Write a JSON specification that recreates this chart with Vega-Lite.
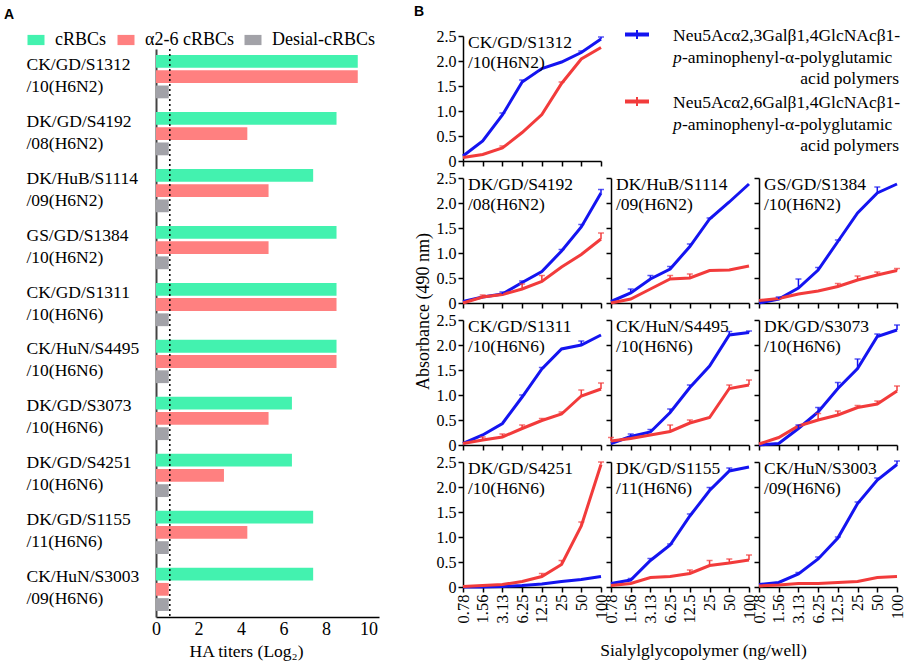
{
"$schema":"https://vega.github.io/schema/vega-lite/v6.json",
"background":"white",
"padding":{"left":4,"top":5,"right":1,"bottom":2},
"resolve":{"scale":{"color":"independent"},"legend":{"color":"independent"}},
"config":{
 "view":{"stroke":null},
 "font":"Liberation Serif",
 "axis":{"domainColor":"black","domainWidth":1.5,"tickColor":"black","tickWidth":1.5,"tickSize":5,"grid":false,"labelFont":"Liberation Serif","labelFontSize":16,"labelColor":"black","titleFont":"Liberation Serif","titleFontSize":18,"titleFontWeight":"normal","titleColor":"black","labelPadding":2,"labelFlush":false},
 "axisY":{"titlePadding":4},
 "text":{"font":"Liberation Serif","fontSize":17.5,"color":"black"},
 "title":{"font":"Liberation Sans","fontSize":14,"fontWeight":"bold","color":"black"}
},
"datasets":{
"bars":[
{"strain":"CK/GD/S1312/10(H6N2)","type":"cRBCs","titer":9.5},{"strain":"CK/GD/S1312/10(H6N2)","type":"α2-6 cRBCs","titer":9.5},{"strain":"CK/GD/S1312/10(H6N2)","type":"Desial-cRBCs","titer":0.6},
{"strain":"DK/GD/S4192/08(H6N2)","type":"cRBCs","titer":8.5},{"strain":"DK/GD/S4192/08(H6N2)","type":"α2-6 cRBCs","titer":4.3},{"strain":"DK/GD/S4192/08(H6N2)","type":"Desial-cRBCs","titer":0.6},
{"strain":"DK/HuB/S1114/09(H6N2)","type":"cRBCs","titer":7.4},{"strain":"DK/HuB/S1114/09(H6N2)","type":"α2-6 cRBCs","titer":5.3},{"strain":"DK/HuB/S1114/09(H6N2)","type":"Desial-cRBCs","titer":0.6},
{"strain":"GS/GD/S1384/10(H6N2)","type":"cRBCs","titer":8.5},{"strain":"GS/GD/S1384/10(H6N2)","type":"α2-6 cRBCs","titer":5.3},{"strain":"GS/GD/S1384/10(H6N2)","type":"Desial-cRBCs","titer":0.6},
{"strain":"CK/GD/S1311/10(H6N6)","type":"cRBCs","titer":8.5},{"strain":"CK/GD/S1311/10(H6N6)","type":"α2-6 cRBCs","titer":8.5},{"strain":"CK/GD/S1311/10(H6N6)","type":"Desial-cRBCs","titer":0.6},
{"strain":"CK/HuN/S4495/10(H6N6)","type":"cRBCs","titer":8.5},{"strain":"CK/HuN/S4495/10(H6N6)","type":"α2-6 cRBCs","titer":8.5},{"strain":"CK/HuN/S4495/10(H6N6)","type":"Desial-cRBCs","titer":0.6},
{"strain":"DK/GD/S3073/10(H6N6)","type":"cRBCs","titer":6.4},{"strain":"DK/GD/S3073/10(H6N6)","type":"α2-6 cRBCs","titer":5.3},{"strain":"DK/GD/S3073/10(H6N6)","type":"Desial-cRBCs","titer":0.6},
{"strain":"DK/GD/S4251/10(H6N6)","type":"cRBCs","titer":6.4},{"strain":"DK/GD/S4251/10(H6N6)","type":"α2-6 cRBCs","titer":3.2},{"strain":"DK/GD/S4251/10(H6N6)","type":"Desial-cRBCs","titer":0.6},
{"strain":"DK/GD/S1155/11(H6N6)","type":"cRBCs","titer":7.4},{"strain":"DK/GD/S1155/11(H6N6)","type":"α2-6 cRBCs","titer":4.3},{"strain":"DK/GD/S1155/11(H6N6)","type":"Desial-cRBCs","titer":0.6},
{"strain":"CK/HuN/S3003/09(H6N6)","type":"cRBCs","titer":7.4},{"strain":"CK/HuN/S3003/09(H6N6)","type":"α2-6 cRBCs","titer":0.6},{"strain":"CK/HuN/S3003/09(H6N6)","type":"Desial-cRBCs","titer":0.6}
],
"strainlabels":[
{"strain":"CK/GD/S1312/10(H6N2)","line1":"CK/GD/S1312","line2":"/10(H6N2)"},
{"strain":"DK/GD/S4192/08(H6N2)","line1":"DK/GD/S4192","line2":"/08(H6N2)"},
{"strain":"DK/HuB/S1114/09(H6N2)","line1":"DK/HuB/S1114","line2":"/09(H6N2)"},
{"strain":"GS/GD/S1384/10(H6N2)","line1":"GS/GD/S1384","line2":"/10(H6N2)"},
{"strain":"CK/GD/S1311/10(H6N6)","line1":"CK/GD/S1311","line2":"/10(H6N6)"},
{"strain":"CK/HuN/S4495/10(H6N6)","line1":"CK/HuN/S4495","line2":"/10(H6N6)"},
{"strain":"DK/GD/S3073/10(H6N6)","line1":"DK/GD/S3073","line2":"/10(H6N6)"},
{"strain":"DK/GD/S4251/10(H6N6)","line1":"DK/GD/S4251","line2":"/10(H6N6)"},
{"strain":"DK/GD/S1155/11(H6N6)","line1":"DK/GD/S1155","line2":"/11(H6N6)"},
{"strain":"CK/HuN/S3003/09(H6N6)","line1":"CK/HuN/S3003","line2":"/09(H6N6)"}
],
"curves":[
{"strain":"CK/GD/S1312/10(H6N2)","series":"α2,3","conc":"0.78","value":0.1,"hi":0.1},
{"strain":"CK/GD/S1312/10(H6N2)","series":"α2,3","conc":"1.56","value":0.4,"hi":0.4},
{"strain":"CK/GD/S1312/10(H6N2)","series":"α2,3","conc":"3.13","value":0.92,"hi":0.96},
{"strain":"CK/GD/S1312/10(H6N2)","series":"α2,3","conc":"6.25","value":1.58,"hi":1.62},
{"strain":"CK/GD/S1312/10(H6N2)","series":"α2,3","conc":"12.5","value":1.85,"hi":1.85},
{"strain":"CK/GD/S1312/10(H6N2)","series":"α2,3","conc":"25","value":1.98,"hi":1.98},
{"strain":"CK/GD/S1312/10(H6N2)","series":"α2,3","conc":"50","value":2.17,"hi":2.2},
{"strain":"CK/GD/S1312/10(H6N2)","series":"α2,3","conc":"100","value":2.44,"hi":2.48},
{"strain":"CK/GD/S1312/10(H6N2)","series":"α2,6","conc":"0.78","value":0.07,"hi":0.07},
{"strain":"CK/GD/S1312/10(H6N2)","series":"α2,6","conc":"1.56","value":0.13,"hi":0.13},
{"strain":"CK/GD/S1312/10(H6N2)","series":"α2,6","conc":"3.13","value":0.26,"hi":0.3},
{"strain":"CK/GD/S1312/10(H6N2)","series":"α2,6","conc":"6.25","value":0.57,"hi":0.57},
{"strain":"CK/GD/S1312/10(H6N2)","series":"α2,6","conc":"12.5","value":0.93,"hi":0.93},
{"strain":"CK/GD/S1312/10(H6N2)","series":"α2,6","conc":"25","value":1.55,"hi":1.58},
{"strain":"CK/GD/S1312/10(H6N2)","series":"α2,6","conc":"50","value":2.04,"hi":2.04},
{"strain":"CK/GD/S1312/10(H6N2)","series":"α2,6","conc":"100","value":2.27,"hi":2.27},
{"strain":"DK/GD/S4192/08(H6N2)","series":"α2,3","conc":"0.78","value":0.03,"hi":0.03},
{"strain":"DK/GD/S4192/08(H6N2)","series":"α2,3","conc":"1.56","value":0.12,"hi":0.12},
{"strain":"DK/GD/S4192/08(H6N2)","series":"α2,3","conc":"3.13","value":0.18,"hi":0.22},
{"strain":"DK/GD/S4192/08(H6N2)","series":"α2,3","conc":"6.25","value":0.41,"hi":0.44},
{"strain":"DK/GD/S4192/08(H6N2)","series":"α2,3","conc":"12.5","value":0.63,"hi":0.63},
{"strain":"DK/GD/S4192/08(H6N2)","series":"α2,3","conc":"25","value":1.04,"hi":1.07},
{"strain":"DK/GD/S4192/08(H6N2)","series":"α2,3","conc":"50","value":1.52,"hi":1.57},
{"strain":"DK/GD/S4192/08(H6N2)","series":"α2,3","conc":"100","value":2.2,"hi":2.27},
{"strain":"DK/GD/S4192/08(H6N2)","series":"α2,6","conc":"0.78","value":0.0,"hi":0.0},
{"strain":"DK/GD/S4192/08(H6N2)","series":"α2,6","conc":"1.56","value":0.12,"hi":0.16},
{"strain":"DK/GD/S4192/08(H6N2)","series":"α2,6","conc":"3.13","value":0.17,"hi":0.17},
{"strain":"DK/GD/S4192/08(H6N2)","series":"α2,6","conc":"6.25","value":0.28,"hi":0.38},
{"strain":"DK/GD/S4192/08(H6N2)","series":"α2,6","conc":"12.5","value":0.43,"hi":0.55},
{"strain":"DK/GD/S4192/08(H6N2)","series":"α2,6","conc":"25","value":0.72,"hi":0.72},
{"strain":"DK/GD/S4192/08(H6N2)","series":"α2,6","conc":"50","value":0.97,"hi":0.97},
{"strain":"DK/GD/S4192/08(H6N2)","series":"α2,6","conc":"100","value":1.28,"hi":1.4},
{"strain":"DK/HuB/S1114/09(H6N2)","series":"α2,3","conc":"0.78","value":0.03,"hi":0.03},
{"strain":"DK/HuB/S1114/09(H6N2)","series":"α2,3","conc":"1.56","value":0.2,"hi":0.28},
{"strain":"DK/HuB/S1114/09(H6N2)","series":"α2,3","conc":"3.13","value":0.48,"hi":0.55},
{"strain":"DK/HuB/S1114/09(H6N2)","series":"α2,3","conc":"6.25","value":0.68,"hi":0.73},
{"strain":"DK/HuB/S1114/09(H6N2)","series":"α2,3","conc":"12.5","value":1.13,"hi":1.18},
{"strain":"DK/HuB/S1114/09(H6N2)","series":"α2,3","conc":"25","value":1.68,"hi":1.7},
{"strain":"DK/HuB/S1114/09(H6N2)","series":"α2,3","conc":"50","value":2.02,"hi":2.02},
{"strain":"DK/HuB/S1114/09(H6N2)","series":"α2,3","conc":"100","value":2.38,"hi":2.38},
{"strain":"DK/HuB/S1114/09(H6N2)","series":"α2,6","conc":"0.78","value":0.0,"hi":0.0},
{"strain":"DK/HuB/S1114/09(H6N2)","series":"α2,6","conc":"1.56","value":0.08,"hi":0.08},
{"strain":"DK/HuB/S1114/09(H6N2)","series":"α2,6","conc":"3.13","value":0.28,"hi":0.28},
{"strain":"DK/HuB/S1114/09(H6N2)","series":"α2,6","conc":"6.25","value":0.48,"hi":0.55},
{"strain":"DK/HuB/S1114/09(H6N2)","series":"α2,6","conc":"12.5","value":0.5,"hi":0.58},
{"strain":"DK/HuB/S1114/09(H6N2)","series":"α2,6","conc":"25","value":0.65,"hi":0.65},
{"strain":"DK/HuB/S1114/09(H6N2)","series":"α2,6","conc":"50","value":0.66,"hi":0.66},
{"strain":"DK/HuB/S1114/09(H6N2)","series":"α2,6","conc":"100","value":0.74,"hi":0.74},
{"strain":"GS/GD/S1384/10(H6N2)","series":"α2,3","conc":"0.78","value":0.0,"hi":0.0},
{"strain":"GS/GD/S1384/10(H6N2)","series":"α2,3","conc":"1.56","value":0.08,"hi":0.12},
{"strain":"GS/GD/S1384/10(H6N2)","series":"α2,3","conc":"3.13","value":0.3,"hi":0.48},
{"strain":"GS/GD/S1384/10(H6N2)","series":"α2,3","conc":"6.25","value":0.66,"hi":0.71},
{"strain":"GS/GD/S1384/10(H6N2)","series":"α2,3","conc":"12.5","value":1.23,"hi":1.26},
{"strain":"GS/GD/S1384/10(H6N2)","series":"α2,3","conc":"25","value":1.8,"hi":1.8},
{"strain":"GS/GD/S1384/10(H6N2)","series":"α2,3","conc":"50","value":2.2,"hi":2.32},
{"strain":"GS/GD/S1384/10(H6N2)","series":"α2,3","conc":"100","value":2.38,"hi":2.38},
{"strain":"GS/GD/S1384/10(H6N2)","series":"α2,6","conc":"0.78","value":0.05,"hi":0.05},
{"strain":"GS/GD/S1384/10(H6N2)","series":"α2,6","conc":"1.56","value":0.09,"hi":0.09},
{"strain":"GS/GD/S1384/10(H6N2)","series":"α2,6","conc":"3.13","value":0.18,"hi":0.18},
{"strain":"GS/GD/S1384/10(H6N2)","series":"α2,6","conc":"6.25","value":0.24,"hi":0.24},
{"strain":"GS/GD/S1384/10(H6N2)","series":"α2,6","conc":"12.5","value":0.33,"hi":0.39},
{"strain":"GS/GD/S1384/10(H6N2)","series":"α2,6","conc":"25","value":0.46,"hi":0.54},
{"strain":"GS/GD/S1384/10(H6N2)","series":"α2,6","conc":"50","value":0.56,"hi":0.62},
{"strain":"GS/GD/S1384/10(H6N2)","series":"α2,6","conc":"100","value":0.65,"hi":0.69},
{"strain":"CK/GD/S1311/10(H6N6)","series":"α2,3","conc":"0.78","value":0.03,"hi":0.03},
{"strain":"CK/GD/S1311/10(H6N6)","series":"α2,3","conc":"1.56","value":0.2,"hi":0.2},
{"strain":"CK/GD/S1311/10(H6N6)","series":"α2,3","conc":"3.13","value":0.43,"hi":0.43},
{"strain":"CK/GD/S1311/10(H6N6)","series":"α2,3","conc":"6.25","value":0.96,"hi":1.0},
{"strain":"CK/GD/S1311/10(H6N6)","series":"α2,3","conc":"12.5","value":1.52,"hi":1.55},
{"strain":"CK/GD/S1311/10(H6N6)","series":"α2,3","conc":"25","value":1.92,"hi":1.92},
{"strain":"CK/GD/S1311/10(H6N6)","series":"α2,3","conc":"50","value":2.0,"hi":2.08},
{"strain":"CK/GD/S1311/10(H6N6)","series":"α2,3","conc":"100","value":2.2,"hi":2.2},
{"strain":"CK/GD/S1311/10(H6N6)","series":"α2,6","conc":"0.78","value":0.03,"hi":0.03},
{"strain":"CK/GD/S1311/10(H6N6)","series":"α2,6","conc":"1.56","value":0.1,"hi":0.16},
{"strain":"CK/GD/S1311/10(H6N6)","series":"α2,6","conc":"3.13","value":0.16,"hi":0.22},
{"strain":"CK/GD/S1311/10(H6N6)","series":"α2,6","conc":"6.25","value":0.33,"hi":0.4},
{"strain":"CK/GD/S1311/10(H6N6)","series":"α2,6","conc":"12.5","value":0.49,"hi":0.53},
{"strain":"CK/GD/S1311/10(H6N6)","series":"α2,6","conc":"25","value":0.62,"hi":0.66},
{"strain":"CK/GD/S1311/10(H6N6)","series":"α2,6","conc":"50","value":0.98,"hi":1.1},
{"strain":"CK/GD/S1311/10(H6N6)","series":"α2,6","conc":"100","value":1.12,"hi":1.24},
{"strain":"CK/HuN/S4495/10(H6N6)","series":"α2,3","conc":"0.78","value":0.03,"hi":0.03},
{"strain":"CK/HuN/S4495/10(H6N6)","series":"α2,3","conc":"1.56","value":0.17,"hi":0.22},
{"strain":"CK/HuN/S4495/10(H6N6)","series":"α2,3","conc":"3.13","value":0.26,"hi":0.31},
{"strain":"CK/HuN/S4495/10(H6N6)","series":"α2,3","conc":"6.25","value":0.65,"hi":0.72},
{"strain":"CK/HuN/S4495/10(H6N6)","series":"α2,3","conc":"12.5","value":1.15,"hi":1.2},
{"strain":"CK/HuN/S4495/10(H6N6)","series":"α2,3","conc":"25","value":1.58,"hi":1.58},
{"strain":"CK/HuN/S4495/10(H6N6)","series":"α2,3","conc":"50","value":2.2,"hi":2.27},
{"strain":"CK/HuN/S4495/10(H6N6)","series":"α2,3","conc":"100","value":2.25,"hi":2.28},
{"strain":"CK/HuN/S4495/10(H6N6)","series":"α2,6","conc":"0.78","value":0.08,"hi":0.15},
{"strain":"CK/HuN/S4495/10(H6N6)","series":"α2,6","conc":"1.56","value":0.13,"hi":0.13},
{"strain":"CK/HuN/S4495/10(H6N6)","series":"α2,6","conc":"3.13","value":0.2,"hi":0.2},
{"strain":"CK/HuN/S4495/10(H6N6)","series":"α2,6","conc":"6.25","value":0.27,"hi":0.4},
{"strain":"CK/HuN/S4495/10(H6N6)","series":"α2,6","conc":"12.5","value":0.44,"hi":0.5},
{"strain":"CK/HuN/S4495/10(H6N6)","series":"α2,6","conc":"25","value":0.55,"hi":0.55},
{"strain":"CK/HuN/S4495/10(H6N6)","series":"α2,6","conc":"50","value":1.13,"hi":1.2},
{"strain":"CK/HuN/S4495/10(H6N6)","series":"α2,6","conc":"100","value":1.2,"hi":1.3},
{"strain":"DK/GD/S3073/10(H6N6)","series":"α2,3","conc":"0.78","value":0.0,"hi":0.0},
{"strain":"DK/GD/S3073/10(H6N6)","series":"α2,3","conc":"1.56","value":0.03,"hi":0.03},
{"strain":"DK/GD/S3073/10(H6N6)","series":"α2,3","conc":"3.13","value":0.33,"hi":0.4},
{"strain":"DK/GD/S3073/10(H6N6)","series":"α2,3","conc":"6.25","value":0.66,"hi":0.75},
{"strain":"DK/GD/S3073/10(H6N6)","series":"α2,3","conc":"12.5","value":1.13,"hi":1.25},
{"strain":"DK/GD/S3073/10(H6N6)","series":"α2,3","conc":"25","value":1.53,"hi":1.72},
{"strain":"DK/GD/S3073/10(H6N6)","series":"α2,3","conc":"50","value":2.17,"hi":2.22},
{"strain":"DK/GD/S3073/10(H6N6)","series":"α2,3","conc":"100","value":2.3,"hi":2.4},
{"strain":"DK/GD/S3073/10(H6N6)","series":"α2,6","conc":"0.78","value":0.02,"hi":0.02},
{"strain":"DK/GD/S3073/10(H6N6)","series":"α2,6","conc":"1.56","value":0.15,"hi":0.15},
{"strain":"DK/GD/S3073/10(H6N6)","series":"α2,6","conc":"3.13","value":0.38,"hi":0.38},
{"strain":"DK/GD/S3073/10(H6N6)","series":"α2,6","conc":"6.25","value":0.5,"hi":0.63},
{"strain":"DK/GD/S3073/10(H6N6)","series":"α2,6","conc":"12.5","value":0.6,"hi":0.68},
{"strain":"DK/GD/S3073/10(H6N6)","series":"α2,6","conc":"25","value":0.75,"hi":0.79},
{"strain":"DK/GD/S3073/10(H6N6)","series":"α2,6","conc":"50","value":0.82,"hi":0.88},
{"strain":"DK/GD/S3073/10(H6N6)","series":"α2,6","conc":"100","value":1.08,"hi":1.18},
{"strain":"DK/GD/S4251/10(H6N6)","series":"α2,3","conc":"0.78","value":0.0,"hi":0.0},
{"strain":"DK/GD/S4251/10(H6N6)","series":"α2,3","conc":"1.56","value":0.0,"hi":0.0},
{"strain":"DK/GD/S4251/10(H6N6)","series":"α2,3","conc":"3.13","value":0.01,"hi":0.01},
{"strain":"DK/GD/S4251/10(H6N6)","series":"α2,3","conc":"6.25","value":0.03,"hi":0.03},
{"strain":"DK/GD/S4251/10(H6N6)","series":"α2,3","conc":"12.5","value":0.06,"hi":0.06},
{"strain":"DK/GD/S4251/10(H6N6)","series":"α2,3","conc":"25","value":0.11,"hi":0.11},
{"strain":"DK/GD/S4251/10(H6N6)","series":"α2,3","conc":"50","value":0.15,"hi":0.15},
{"strain":"DK/GD/S4251/10(H6N6)","series":"α2,3","conc":"100","value":0.21,"hi":0.21},
{"strain":"DK/GD/S4251/10(H6N6)","series":"α2,6","conc":"0.78","value":0.01,"hi":0.01},
{"strain":"DK/GD/S4251/10(H6N6)","series":"α2,6","conc":"1.56","value":0.03,"hi":0.03},
{"strain":"DK/GD/S4251/10(H6N6)","series":"α2,6","conc":"3.13","value":0.05,"hi":0.05},
{"strain":"DK/GD/S4251/10(H6N6)","series":"α2,6","conc":"6.25","value":0.11,"hi":0.11},
{"strain":"DK/GD/S4251/10(H6N6)","series":"α2,6","conc":"12.5","value":0.21,"hi":0.27},
{"strain":"DK/GD/S4251/10(H6N6)","series":"α2,6","conc":"25","value":0.45,"hi":0.53},
{"strain":"DK/GD/S4251/10(H6N6)","series":"α2,6","conc":"50","value":1.22,"hi":1.3},
{"strain":"DK/GD/S4251/10(H6N6)","series":"α2,6","conc":"100","value":2.45,"hi":2.5},
{"strain":"DK/GD/S1155/11(H6N6)","series":"α2,3","conc":"0.78","value":0.07,"hi":0.07},
{"strain":"DK/GD/S1155/11(H6N6)","series":"α2,3","conc":"1.56","value":0.14,"hi":0.17},
{"strain":"DK/GD/S1155/11(H6N6)","series":"α2,3","conc":"3.13","value":0.53,"hi":0.57},
{"strain":"DK/GD/S1155/11(H6N6)","series":"α2,3","conc":"6.25","value":0.84,"hi":0.86},
{"strain":"DK/GD/S1155/11(H6N6)","series":"α2,3","conc":"12.5","value":1.42,"hi":1.46},
{"strain":"DK/GD/S1155/11(H6N6)","series":"α2,3","conc":"25","value":1.93,"hi":1.99},
{"strain":"DK/GD/S1155/11(H6N6)","series":"α2,3","conc":"50","value":2.32,"hi":2.38},
{"strain":"DK/GD/S1155/11(H6N6)","series":"α2,3","conc":"100","value":2.4,"hi":2.4},
{"strain":"DK/GD/S1155/11(H6N6)","series":"α2,6","conc":"0.78","value":0.03,"hi":0.03},
{"strain":"DK/GD/S1155/11(H6N6)","series":"α2,6","conc":"1.56","value":0.07,"hi":0.07},
{"strain":"DK/GD/S1155/11(H6N6)","series":"α2,6","conc":"3.13","value":0.19,"hi":0.19},
{"strain":"DK/GD/S1155/11(H6N6)","series":"α2,6","conc":"6.25","value":0.21,"hi":0.21},
{"strain":"DK/GD/S1155/11(H6N6)","series":"α2,6","conc":"12.5","value":0.27,"hi":0.34},
{"strain":"DK/GD/S1155/11(H6N6)","series":"α2,6","conc":"25","value":0.43,"hi":0.53},
{"strain":"DK/GD/S1155/11(H6N6)","series":"α2,6","conc":"50","value":0.48,"hi":0.56},
{"strain":"DK/GD/S1155/11(H6N6)","series":"α2,6","conc":"100","value":0.54,"hi":0.64},
{"strain":"CK/HuN/S3003/09(H6N6)","series":"α2,3","conc":"0.78","value":0.05,"hi":0.05},
{"strain":"CK/HuN/S3003/09(H6N6)","series":"α2,3","conc":"1.56","value":0.09,"hi":0.09},
{"strain":"CK/HuN/S3003/09(H6N6)","series":"α2,3","conc":"3.13","value":0.26,"hi":0.29},
{"strain":"CK/HuN/S3003/09(H6N6)","series":"α2,3","conc":"6.25","value":0.56,"hi":0.6},
{"strain":"CK/HuN/S3003/09(H6N6)","series":"α2,3","conc":"12.5","value":0.98,"hi":1.0},
{"strain":"CK/HuN/S3003/09(H6N6)","series":"α2,3","conc":"25","value":1.67,"hi":1.7},
{"strain":"CK/HuN/S3003/09(H6N6)","series":"α2,3","conc":"50","value":2.14,"hi":2.18},
{"strain":"CK/HuN/S3003/09(H6N6)","series":"α2,3","conc":"100","value":2.45,"hi":2.52},
{"strain":"CK/HuN/S3003/09(H6N6)","series":"α2,6","conc":"0.78","value":0.02,"hi":0.02},
{"strain":"CK/HuN/S3003/09(H6N6)","series":"α2,6","conc":"1.56","value":0.04,"hi":0.04},
{"strain":"CK/HuN/S3003/09(H6N6)","series":"α2,6","conc":"3.13","value":0.07,"hi":0.07},
{"strain":"CK/HuN/S3003/09(H6N6)","series":"α2,6","conc":"6.25","value":0.07,"hi":0.07},
{"strain":"CK/HuN/S3003/09(H6N6)","series":"α2,6","conc":"12.5","value":0.09,"hi":0.09},
{"strain":"CK/HuN/S3003/09(H6N6)","series":"α2,6","conc":"25","value":0.11,"hi":0.11},
{"strain":"CK/HuN/S3003/09(H6N6)","series":"α2,6","conc":"50","value":0.19,"hi":0.19},
{"strain":"CK/HuN/S3003/09(H6N6)","series":"α2,6","conc":"100","value":0.21,"hi":0.21}
]
},
"spacing":35,
"hconcat":[
{
 "title":{"text":"A","anchor":"start","frame":"bounds","dx":-22,"offset":9},
 "bounds":"flush",
 "spacing":12,
 "vconcat":[
  {"width":223,"height":1,"data":{"values":[{"spacer":1}]},"mark":{"type":"point","opacity":0},"encoding":{}},
  {
   "width":223,"height":568,
   "layer":[
    {"data":{"name":"bars"},
     "mark":{"type":"bar"},
     "encoding":{
      "y":{"field":"strain","type":"nominal","sort":null,"scale":{"paddingInner":0.24,"paddingOuter":0.106},
           "axis":{"title":null,"ticks":false,"labelAlign":"left","labelPadding":130,"labelFontSize":17.5,"labelLineHeight":22,"labelBaseline":"middle","labelOffset":-12,"labelLimit":200,"domainColor":"#444","domainWidth":2,
                   "labelExpr":"[substring(datum.label, 0, lastindexof(datum.label, '/')), substring(datum.label, lastindexof(datum.label, '/'))]"}},
      "yOffset":{"field":"type","type":"nominal","sort":["cRBCs","α2-6 cRBCs","Desial-cRBCs"],"scale":{"paddingInner":0.16}},
      "x":{"field":"titer","type":"quantitative","scale":{"domain":[0,10.5],"nice":false},
           "axis":{"values":[0,2,4,6,8,10],"ticks":false,"labelPadding":3,"labelFontSize":18,"title":"HA titers (Log₂)","titleX":90,"titlePadding":4,"titleFontSize":17.5}},
      "color":{"field":"type","type":"nominal","scale":{"domain":["cRBCs","α2-6 cRBCs","Desial-cRBCs"],"range":["#43F2AF","#FF8080","#A2A2A8"]},
           "legend":{"title":null,"orient":"none","legendX":-129,"legendY":-5,"direction":"horizontal","symbolType":"M-1,-0.6H1V0.6H-1Z","symbolSize":289,"symbolStrokeWidth":0,"labelFont":"Liberation Serif","labelFontSize":18,"labelColor":"black","labelOffset":10,"columnPadding":10}}
     }},
    {"data":{"values":[{"threshold":"detection limit"}]},
     "mark":{"type":"rule","strokeDash":[2,3],"strokeWidth":1.5,"color":"black"},
     "encoding":{"x":{"datum":0.65}}}
   ]
  }
 ]
},
{
 "title":{"text":"B","anchor":"start","frame":"bounds","offset":7},
 "columns":3,
 "spacing":{"row":17,"column":10},
 "bounds":"flush",
 "concat":[
  {"width":138,"height":125,
   "encoding":{
    "x":{"field":"conc","type":"ordinal","sort":["0.78","1.56","3.13","6.25","12.5","25","50","100"],"scale":{"type":"point","padding":0,"domain":["0.78","1.56","3.13","6.25","12.5","25","50","100"]},"axis":{"labels":false,"title":null}},
    "y":{"field":"value","type":"quantitative","scale":{"domain":[0,2.5],"nice":false},"axis":{"values":[0,0.5,1,1.5,2,2.5],"labelExpr":"datum.value == 0 ? '0' : format(datum.value, '.1f')","title":null}},
    "color":{"field":"series","type":"nominal","scale":{"domain":["α2,3","α2,6"],"range":["#1414F0","#F23B3B"]},"legend":null}},
   "layer":[
    {"data":{"name":"curves"},"transform":[{"filter":"datum.strain == 'CK/GD/S1312/10(H6N2)'"}],"mark":{"type":"line","strokeWidth":3}},
    {"data":{"name":"curves"},"transform":[{"filter":"datum.strain == 'CK/GD/S1312/10(H6N2)' && datum.hi > datum.value"}],"mark":{"type":"rule","strokeWidth":1.5},"encoding":{"y2":{"field":"hi"}}},
    {"data":{"name":"curves"},"transform":[{"filter":"datum.strain == 'CK/GD/S1312/10(H6N2)' && datum.hi > datum.value"}],"mark":{"type":"tick","thickness":1.5,"size":6},"encoding":{"y":{"field":"hi","type":"quantitative"}}},
    {"data":{"name":"curves"},"transform":[{"filter":"datum.strain == 'CK/GD/S1312/10(H6N2)' && datum.conc == '0.78' && datum.series == 'α2,3'"},{"lookup":"strain","from":{"data":{"name":"strainlabels"},"key":"strain","fields":["line1","line2"]}}],"mark":{"type":"text","align":"left","baseline":"middle","dx":5,"dy":7},"encoding":{"y":{"datum":2.5,"type":"quantitative"},"text":{"field":"line1","type":"nominal"},"color":{"value":"black"}}},
    {"data":{"name":"curves"},"transform":[{"filter":"datum.strain == 'CK/GD/S1312/10(H6N2)' && datum.conc == '0.78' && datum.series == 'α2,3'"},{"lookup":"strain","from":{"data":{"name":"strainlabels"},"key":"strain","fields":["line1","line2"]}}],"mark":{"type":"text","align":"left","baseline":"middle","dx":5,"dy":27},"encoding":{"y":{"datum":2.5,"type":"quantitative"},"text":{"field":"line2","type":"nominal"},"color":{"value":"black"}}}
   ]},
  {"width":138,"height":67,
   "data":{"values":[
     {"series":"α2,3","line1":"Neu5Acα2,3Galβ1,4GlcNAcβ1-","prefix":"p","line2":"-aminophenyl-α-polyglutamic","line3":"acid polymers"},
     {"series":"α2,6","line1":"Neu5Acα2,6Galβ1,4GlcNAcβ1-","prefix":"p","line2":"-aminophenyl-α-polyglutamic","line3":"acid polymers"}]},
   "encoding":{
    "y":{"field":"series","type":"nominal","scale":{"type":"point","padding":0,"domain":["α2,3","α2,6"]},"axis":null},
    "color":{"field":"series","type":"nominal","scale":{"domain":["α2,3","α2,6"],"range":["#1414F0","#F23B3B"]},"legend":null}},
   "layer":[
    {"mark":{"type":"rule","strokeWidth":4,"yOffset":-1.5},"encoding":{"x":{"datum":14,"type":"quantitative","scale":{"domain":[0,138],"nice":false,"zero":false},"axis":null},"x2":{"datum":38}}},
    {"mark":{"type":"point","shape":"M0,-1V1","size":81,"strokeWidth":2,"filled":false,"opacity":1,"yOffset":-1.5},"encoding":{"x":{"datum":26,"type":"quantitative"}}},
    {"mark":{"type":"text","align":"left","baseline":"middle"},"encoding":{"x":{"datum":62,"type":"quantitative"},"text":{"field":"line1"},"color":{"value":"black"}}},
    {"mark":{"type":"text","align":"left","baseline":"middle","fontStyle":"italic","dy":21.7},"encoding":{"x":{"datum":62,"type":"quantitative"},"text":{"field":"prefix"},"color":{"value":"black"}}},
    {"mark":{"type":"text","align":"left","baseline":"middle","dx":9,"dy":21.7},"encoding":{"x":{"datum":62,"type":"quantitative"},"text":{"field":"line2"},"color":{"value":"black"}}},
    {"mark":{"type":"text","align":"right","baseline":"middle","dy":43.3},"encoding":{"x":{"datum":288,"type":"quantitative"},"text":{"field":"line3"},"color":{"value":"black"}}}
   ]},
  {"width":138,"height":125,"data":{"values":[{"blank":1}]},"mark":{"type":"point","opacity":0},"encoding":{}},

  {"width":138,"height":125,
   "encoding":{
    "x":{"field":"conc","type":"ordinal","sort":["0.78","1.56","3.13","6.25","12.5","25","50","100"],"scale":{"type":"point","padding":0,"domain":["0.78","1.56","3.13","6.25","12.5","25","50","100"]},"axis":{"labels":false,"title":null}},
    "y":{"field":"value","type":"quantitative","scale":{"domain":[0,2.5],"nice":false},"axis":{"values":[0,0.5,1,1.5,2,2.5],"labelExpr":"datum.value == 0 ? '0' : format(datum.value, '.1f')","title":"Absorbance (490 nm)","titleY":133}},
    "color":{"field":"series","type":"nominal","scale":{"domain":["α2,3","α2,6"],"range":["#1414F0","#F23B3B"]},"legend":null}},
   "layer":[
    {"data":{"name":"curves"},"transform":[{"filter":"datum.strain == 'DK/GD/S4192/08(H6N2)'"}],"mark":{"type":"line","strokeWidth":3}},
    {"data":{"name":"curves"},"transform":[{"filter":"datum.strain == 'DK/GD/S4192/08(H6N2)' && datum.hi > datum.value"}],"mark":{"type":"rule","strokeWidth":1.5},"encoding":{"y2":{"field":"hi"}}},
    {"data":{"name":"curves"},"transform":[{"filter":"datum.strain == 'DK/GD/S4192/08(H6N2)' && datum.hi > datum.value"}],"mark":{"type":"tick","thickness":1.5,"size":6},"encoding":{"y":{"field":"hi","type":"quantitative"}}},
    {"data":{"name":"curves"},"transform":[{"filter":"datum.strain == 'DK/GD/S4192/08(H6N2)' && datum.conc == '0.78' && datum.series == 'α2,3'"},{"lookup":"strain","from":{"data":{"name":"strainlabels"},"key":"strain","fields":["line1","line2"]}}],"mark":{"type":"text","align":"left","baseline":"middle","dx":5,"dy":7},"encoding":{"y":{"datum":2.5,"type":"quantitative"},"text":{"field":"line1","type":"nominal"},"color":{"value":"black"}}},
    {"data":{"name":"curves"},"transform":[{"filter":"datum.strain == 'DK/GD/S4192/08(H6N2)' && datum.conc == '0.78' && datum.series == 'α2,3'"},{"lookup":"strain","from":{"data":{"name":"strainlabels"},"key":"strain","fields":["line1","line2"]}}],"mark":{"type":"text","align":"left","baseline":"middle","dx":5,"dy":27},"encoding":{"y":{"datum":2.5,"type":"quantitative"},"text":{"field":"line2","type":"nominal"},"color":{"value":"black"}}}
   ]},
  {"width":138,"height":125,
   "encoding":{
    "x":{"field":"conc","type":"ordinal","sort":["0.78","1.56","3.13","6.25","12.5","25","50","100"],"scale":{"type":"point","padding":0,"domain":["0.78","1.56","3.13","6.25","12.5","25","50","100"]},"axis":{"labels":false,"title":null}},
    "y":{"field":"value","type":"quantitative","scale":{"domain":[0,2.5],"nice":false},"axis":{"values":[0,0.5,1,1.5,2,2.5],"labels":false,"title":null}},
    "color":{"field":"series","type":"nominal","scale":{"domain":["α2,3","α2,6"],"range":["#1414F0","#F23B3B"]},"legend":null}},
   "layer":[
    {"data":{"name":"curves"},"transform":[{"filter":"datum.strain == 'DK/HuB/S1114/09(H6N2)'"}],"mark":{"type":"line","strokeWidth":3}},
    {"data":{"name":"curves"},"transform":[{"filter":"datum.strain == 'DK/HuB/S1114/09(H6N2)' && datum.hi > datum.value"}],"mark":{"type":"rule","strokeWidth":1.5},"encoding":{"y2":{"field":"hi"}}},
    {"data":{"name":"curves"},"transform":[{"filter":"datum.strain == 'DK/HuB/S1114/09(H6N2)' && datum.hi > datum.value"}],"mark":{"type":"tick","thickness":1.5,"size":6},"encoding":{"y":{"field":"hi","type":"quantitative"}}},
    {"data":{"name":"curves"},"transform":[{"filter":"datum.strain == 'DK/HuB/S1114/09(H6N2)' && datum.conc == '0.78' && datum.series == 'α2,3'"},{"lookup":"strain","from":{"data":{"name":"strainlabels"},"key":"strain","fields":["line1","line2"]}}],"mark":{"type":"text","align":"left","baseline":"middle","dx":5,"dy":7},"encoding":{"y":{"datum":2.5,"type":"quantitative"},"text":{"field":"line1","type":"nominal"},"color":{"value":"black"}}},
    {"data":{"name":"curves"},"transform":[{"filter":"datum.strain == 'DK/HuB/S1114/09(H6N2)' && datum.conc == '0.78' && datum.series == 'α2,3'"},{"lookup":"strain","from":{"data":{"name":"strainlabels"},"key":"strain","fields":["line1","line2"]}}],"mark":{"type":"text","align":"left","baseline":"middle","dx":5,"dy":27},"encoding":{"y":{"datum":2.5,"type":"quantitative"},"text":{"field":"line2","type":"nominal"},"color":{"value":"black"}}}
   ]},
  {"width":138,"height":125,
   "encoding":{
    "x":{"field":"conc","type":"ordinal","sort":["0.78","1.56","3.13","6.25","12.5","25","50","100"],"scale":{"type":"point","padding":0,"domain":["0.78","1.56","3.13","6.25","12.5","25","50","100"]},"axis":{"labels":false,"title":null}},
    "y":{"field":"value","type":"quantitative","scale":{"domain":[0,2.5],"nice":false},"axis":{"values":[0,0.5,1,1.5,2,2.5],"labels":false,"title":null}},
    "color":{"field":"series","type":"nominal","scale":{"domain":["α2,3","α2,6"],"range":["#1414F0","#F23B3B"]},"legend":null}},
   "layer":[
    {"data":{"name":"curves"},"transform":[{"filter":"datum.strain == 'GS/GD/S1384/10(H6N2)'"}],"mark":{"type":"line","strokeWidth":3}},
    {"data":{"name":"curves"},"transform":[{"filter":"datum.strain == 'GS/GD/S1384/10(H6N2)' && datum.hi > datum.value"}],"mark":{"type":"rule","strokeWidth":1.5},"encoding":{"y2":{"field":"hi"}}},
    {"data":{"name":"curves"},"transform":[{"filter":"datum.strain == 'GS/GD/S1384/10(H6N2)' && datum.hi > datum.value"}],"mark":{"type":"tick","thickness":1.5,"size":6},"encoding":{"y":{"field":"hi","type":"quantitative"}}},
    {"data":{"name":"curves"},"transform":[{"filter":"datum.strain == 'GS/GD/S1384/10(H6N2)' && datum.conc == '0.78' && datum.series == 'α2,3'"},{"lookup":"strain","from":{"data":{"name":"strainlabels"},"key":"strain","fields":["line1","line2"]}}],"mark":{"type":"text","align":"left","baseline":"middle","dx":5,"dy":7},"encoding":{"y":{"datum":2.5,"type":"quantitative"},"text":{"field":"line1","type":"nominal"},"color":{"value":"black"}}},
    {"data":{"name":"curves"},"transform":[{"filter":"datum.strain == 'GS/GD/S1384/10(H6N2)' && datum.conc == '0.78' && datum.series == 'α2,3'"},{"lookup":"strain","from":{"data":{"name":"strainlabels"},"key":"strain","fields":["line1","line2"]}}],"mark":{"type":"text","align":"left","baseline":"middle","dx":5,"dy":27},"encoding":{"y":{"datum":2.5,"type":"quantitative"},"text":{"field":"line2","type":"nominal"},"color":{"value":"black"}}}
   ]},

  {"width":138,"height":125,
   "encoding":{
    "x":{"field":"conc","type":"ordinal","sort":["0.78","1.56","3.13","6.25","12.5","25","50","100"],"scale":{"type":"point","padding":0,"domain":["0.78","1.56","3.13","6.25","12.5","25","50","100"]},"axis":{"labels":false,"title":null}},
    "y":{"field":"value","type":"quantitative","scale":{"domain":[0,2.5],"nice":false},"axis":{"values":[0,0.5,1,1.5,2,2.5],"labelExpr":"datum.value == 0 ? '0' : format(datum.value, '.1f')","title":null}},
    "color":{"field":"series","type":"nominal","scale":{"domain":["α2,3","α2,6"],"range":["#1414F0","#F23B3B"]},"legend":null}},
   "layer":[
    {"data":{"name":"curves"},"transform":[{"filter":"datum.strain == 'CK/GD/S1311/10(H6N6)'"}],"mark":{"type":"line","strokeWidth":3}},
    {"data":{"name":"curves"},"transform":[{"filter":"datum.strain == 'CK/GD/S1311/10(H6N6)' && datum.hi > datum.value"}],"mark":{"type":"rule","strokeWidth":1.5},"encoding":{"y2":{"field":"hi"}}},
    {"data":{"name":"curves"},"transform":[{"filter":"datum.strain == 'CK/GD/S1311/10(H6N6)' && datum.hi > datum.value"}],"mark":{"type":"tick","thickness":1.5,"size":6},"encoding":{"y":{"field":"hi","type":"quantitative"}}},
    {"data":{"name":"curves"},"transform":[{"filter":"datum.strain == 'CK/GD/S1311/10(H6N6)' && datum.conc == '0.78' && datum.series == 'α2,3'"},{"lookup":"strain","from":{"data":{"name":"strainlabels"},"key":"strain","fields":["line1","line2"]}}],"mark":{"type":"text","align":"left","baseline":"middle","dx":5,"dy":7},"encoding":{"y":{"datum":2.5,"type":"quantitative"},"text":{"field":"line1","type":"nominal"},"color":{"value":"black"}}},
    {"data":{"name":"curves"},"transform":[{"filter":"datum.strain == 'CK/GD/S1311/10(H6N6)' && datum.conc == '0.78' && datum.series == 'α2,3'"},{"lookup":"strain","from":{"data":{"name":"strainlabels"},"key":"strain","fields":["line1","line2"]}}],"mark":{"type":"text","align":"left","baseline":"middle","dx":5,"dy":27},"encoding":{"y":{"datum":2.5,"type":"quantitative"},"text":{"field":"line2","type":"nominal"},"color":{"value":"black"}}}
   ]},
  {"width":138,"height":125,
   "encoding":{
    "x":{"field":"conc","type":"ordinal","sort":["0.78","1.56","3.13","6.25","12.5","25","50","100"],"scale":{"type":"point","padding":0,"domain":["0.78","1.56","3.13","6.25","12.5","25","50","100"]},"axis":{"labels":false,"title":null}},
    "y":{"field":"value","type":"quantitative","scale":{"domain":[0,2.5],"nice":false},"axis":{"values":[0,0.5,1,1.5,2,2.5],"labels":false,"title":null}},
    "color":{"field":"series","type":"nominal","scale":{"domain":["α2,3","α2,6"],"range":["#1414F0","#F23B3B"]},"legend":null}},
   "layer":[
    {"data":{"name":"curves"},"transform":[{"filter":"datum.strain == 'CK/HuN/S4495/10(H6N6)'"}],"mark":{"type":"line","strokeWidth":3}},
    {"data":{"name":"curves"},"transform":[{"filter":"datum.strain == 'CK/HuN/S4495/10(H6N6)' && datum.hi > datum.value"}],"mark":{"type":"rule","strokeWidth":1.5},"encoding":{"y2":{"field":"hi"}}},
    {"data":{"name":"curves"},"transform":[{"filter":"datum.strain == 'CK/HuN/S4495/10(H6N6)' && datum.hi > datum.value"}],"mark":{"type":"tick","thickness":1.5,"size":6},"encoding":{"y":{"field":"hi","type":"quantitative"}}},
    {"data":{"name":"curves"},"transform":[{"filter":"datum.strain == 'CK/HuN/S4495/10(H6N6)' && datum.conc == '0.78' && datum.series == 'α2,3'"},{"lookup":"strain","from":{"data":{"name":"strainlabels"},"key":"strain","fields":["line1","line2"]}}],"mark":{"type":"text","align":"left","baseline":"middle","dx":5,"dy":7},"encoding":{"y":{"datum":2.5,"type":"quantitative"},"text":{"field":"line1","type":"nominal"},"color":{"value":"black"}}},
    {"data":{"name":"curves"},"transform":[{"filter":"datum.strain == 'CK/HuN/S4495/10(H6N6)' && datum.conc == '0.78' && datum.series == 'α2,3'"},{"lookup":"strain","from":{"data":{"name":"strainlabels"},"key":"strain","fields":["line1","line2"]}}],"mark":{"type":"text","align":"left","baseline":"middle","dx":5,"dy":27},"encoding":{"y":{"datum":2.5,"type":"quantitative"},"text":{"field":"line2","type":"nominal"},"color":{"value":"black"}}}
   ]},
  {"width":138,"height":125,
   "encoding":{
    "x":{"field":"conc","type":"ordinal","sort":["0.78","1.56","3.13","6.25","12.5","25","50","100"],"scale":{"type":"point","padding":0,"domain":["0.78","1.56","3.13","6.25","12.5","25","50","100"]},"axis":{"labels":false,"title":null}},
    "y":{"field":"value","type":"quantitative","scale":{"domain":[0,2.5],"nice":false},"axis":{"values":[0,0.5,1,1.5,2,2.5],"labels":false,"title":null}},
    "color":{"field":"series","type":"nominal","scale":{"domain":["α2,3","α2,6"],"range":["#1414F0","#F23B3B"]},"legend":null}},
   "layer":[
    {"data":{"name":"curves"},"transform":[{"filter":"datum.strain == 'DK/GD/S3073/10(H6N6)'"}],"mark":{"type":"line","strokeWidth":3}},
    {"data":{"name":"curves"},"transform":[{"filter":"datum.strain == 'DK/GD/S3073/10(H6N6)' && datum.hi > datum.value"}],"mark":{"type":"rule","strokeWidth":1.5},"encoding":{"y2":{"field":"hi"}}},
    {"data":{"name":"curves"},"transform":[{"filter":"datum.strain == 'DK/GD/S3073/10(H6N6)' && datum.hi > datum.value"}],"mark":{"type":"tick","thickness":1.5,"size":6},"encoding":{"y":{"field":"hi","type":"quantitative"}}},
    {"data":{"name":"curves"},"transform":[{"filter":"datum.strain == 'DK/GD/S3073/10(H6N6)' && datum.conc == '0.78' && datum.series == 'α2,3'"},{"lookup":"strain","from":{"data":{"name":"strainlabels"},"key":"strain","fields":["line1","line2"]}}],"mark":{"type":"text","align":"left","baseline":"middle","dx":5,"dy":7},"encoding":{"y":{"datum":2.5,"type":"quantitative"},"text":{"field":"line1","type":"nominal"},"color":{"value":"black"}}},
    {"data":{"name":"curves"},"transform":[{"filter":"datum.strain == 'DK/GD/S3073/10(H6N6)' && datum.conc == '0.78' && datum.series == 'α2,3'"},{"lookup":"strain","from":{"data":{"name":"strainlabels"},"key":"strain","fields":["line1","line2"]}}],"mark":{"type":"text","align":"left","baseline":"middle","dx":5,"dy":27},"encoding":{"y":{"datum":2.5,"type":"quantitative"},"text":{"field":"line2","type":"nominal"},"color":{"value":"black"}}}
   ]},

  {"width":138,"height":125,
   "encoding":{
    "x":{"field":"conc","type":"ordinal","sort":["0.78","1.56","3.13","6.25","12.5","25","50","100"],"scale":{"type":"point","padding":0,"domain":["0.78","1.56","3.13","6.25","12.5","25","50","100"]},"axis":{"labelAngle":-90,"labelFontSize":16.5,"title":null}},
    "y":{"field":"value","type":"quantitative","scale":{"domain":[0,2.5],"nice":false},"axis":{"values":[0,0.5,1,1.5,2,2.5],"labelExpr":"datum.value == 0 ? '0' : format(datum.value, '.1f')","title":null}},
    "color":{"field":"series","type":"nominal","scale":{"domain":["α2,3","α2,6"],"range":["#1414F0","#F23B3B"]},"legend":null}},
   "layer":[
    {"data":{"name":"curves"},"transform":[{"filter":"datum.strain == 'DK/GD/S4251/10(H6N6)'"}],"mark":{"type":"line","strokeWidth":3}},
    {"data":{"name":"curves"},"transform":[{"filter":"datum.strain == 'DK/GD/S4251/10(H6N6)' && datum.hi > datum.value"}],"mark":{"type":"rule","strokeWidth":1.5},"encoding":{"y2":{"field":"hi"}}},
    {"data":{"name":"curves"},"transform":[{"filter":"datum.strain == 'DK/GD/S4251/10(H6N6)' && datum.hi > datum.value"}],"mark":{"type":"tick","thickness":1.5,"size":6},"encoding":{"y":{"field":"hi","type":"quantitative"}}},
    {"data":{"name":"curves"},"transform":[{"filter":"datum.strain == 'DK/GD/S4251/10(H6N6)' && datum.conc == '0.78' && datum.series == 'α2,3'"},{"lookup":"strain","from":{"data":{"name":"strainlabels"},"key":"strain","fields":["line1","line2"]}}],"mark":{"type":"text","align":"left","baseline":"middle","dx":5,"dy":7},"encoding":{"y":{"datum":2.5,"type":"quantitative"},"text":{"field":"line1","type":"nominal"},"color":{"value":"black"}}},
    {"data":{"name":"curves"},"transform":[{"filter":"datum.strain == 'DK/GD/S4251/10(H6N6)' && datum.conc == '0.78' && datum.series == 'α2,3'"},{"lookup":"strain","from":{"data":{"name":"strainlabels"},"key":"strain","fields":["line1","line2"]}}],"mark":{"type":"text","align":"left","baseline":"middle","dx":5,"dy":27},"encoding":{"y":{"datum":2.5,"type":"quantitative"},"text":{"field":"line2","type":"nominal"},"color":{"value":"black"}}}
   ]},
  {"width":138,"height":125,
   "encoding":{
    "x":{"field":"conc","type":"ordinal","sort":["0.78","1.56","3.13","6.25","12.5","25","50","100"],"scale":{"type":"point","padding":0,"domain":["0.78","1.56","3.13","6.25","12.5","25","50","100"]},"axis":{"labelAngle":-90,"labelFontSize":16.5,"title":"Sialylglycopolymer (ng/well)","titleX":92,"titlePadding":19,"titleFontSize":17.5}},
    "y":{"field":"value","type":"quantitative","scale":{"domain":[0,2.5],"nice":false},"axis":{"values":[0,0.5,1,1.5,2,2.5],"labels":false,"title":null}},
    "color":{"field":"series","type":"nominal","scale":{"domain":["α2,3","α2,6"],"range":["#1414F0","#F23B3B"]},"legend":null}},
   "layer":[
    {"data":{"name":"curves"},"transform":[{"filter":"datum.strain == 'DK/GD/S1155/11(H6N6)'"}],"mark":{"type":"line","strokeWidth":3}},
    {"data":{"name":"curves"},"transform":[{"filter":"datum.strain == 'DK/GD/S1155/11(H6N6)' && datum.hi > datum.value"}],"mark":{"type":"rule","strokeWidth":1.5},"encoding":{"y2":{"field":"hi"}}},
    {"data":{"name":"curves"},"transform":[{"filter":"datum.strain == 'DK/GD/S1155/11(H6N6)' && datum.hi > datum.value"}],"mark":{"type":"tick","thickness":1.5,"size":6},"encoding":{"y":{"field":"hi","type":"quantitative"}}},
    {"data":{"name":"curves"},"transform":[{"filter":"datum.strain == 'DK/GD/S1155/11(H6N6)' && datum.conc == '0.78' && datum.series == 'α2,3'"},{"lookup":"strain","from":{"data":{"name":"strainlabels"},"key":"strain","fields":["line1","line2"]}}],"mark":{"type":"text","align":"left","baseline":"middle","dx":5,"dy":7},"encoding":{"y":{"datum":2.5,"type":"quantitative"},"text":{"field":"line1","type":"nominal"},"color":{"value":"black"}}},
    {"data":{"name":"curves"},"transform":[{"filter":"datum.strain == 'DK/GD/S1155/11(H6N6)' && datum.conc == '0.78' && datum.series == 'α2,3'"},{"lookup":"strain","from":{"data":{"name":"strainlabels"},"key":"strain","fields":["line1","line2"]}}],"mark":{"type":"text","align":"left","baseline":"middle","dx":5,"dy":27},"encoding":{"y":{"datum":2.5,"type":"quantitative"},"text":{"field":"line2","type":"nominal"},"color":{"value":"black"}}}
   ]},
  {"width":138,"height":125,
   "encoding":{
    "x":{"field":"conc","type":"ordinal","sort":["0.78","1.56","3.13","6.25","12.5","25","50","100"],"scale":{"type":"point","padding":0,"domain":["0.78","1.56","3.13","6.25","12.5","25","50","100"]},"axis":{"labelAngle":-90,"labelFontSize":16.5,"title":null}},
    "y":{"field":"value","type":"quantitative","scale":{"domain":[0,2.5],"nice":false},"axis":{"values":[0,0.5,1,1.5,2,2.5],"labels":false,"title":null}},
    "color":{"field":"series","type":"nominal","scale":{"domain":["α2,3","α2,6"],"range":["#1414F0","#F23B3B"]},"legend":null}},
   "layer":[
    {"data":{"name":"curves"},"transform":[{"filter":"datum.strain == 'CK/HuN/S3003/09(H6N6)'"}],"mark":{"type":"line","strokeWidth":3}},
    {"data":{"name":"curves"},"transform":[{"filter":"datum.strain == 'CK/HuN/S3003/09(H6N6)' && datum.hi > datum.value"}],"mark":{"type":"rule","strokeWidth":1.5},"encoding":{"y2":{"field":"hi"}}},
    {"data":{"name":"curves"},"transform":[{"filter":"datum.strain == 'CK/HuN/S3003/09(H6N6)' && datum.hi > datum.value"}],"mark":{"type":"tick","thickness":1.5,"size":6},"encoding":{"y":{"field":"hi","type":"quantitative"}}},
    {"data":{"name":"curves"},"transform":[{"filter":"datum.strain == 'CK/HuN/S3003/09(H6N6)' && datum.conc == '0.78' && datum.series == 'α2,3'"},{"lookup":"strain","from":{"data":{"name":"strainlabels"},"key":"strain","fields":["line1","line2"]}}],"mark":{"type":"text","align":"left","baseline":"middle","dx":5,"dy":7},"encoding":{"y":{"datum":2.5,"type":"quantitative"},"text":{"field":"line1","type":"nominal"},"color":{"value":"black"}}},
    {"data":{"name":"curves"},"transform":[{"filter":"datum.strain == 'CK/HuN/S3003/09(H6N6)' && datum.conc == '0.78' && datum.series == 'α2,3'"},{"lookup":"strain","from":{"data":{"name":"strainlabels"},"key":"strain","fields":["line1","line2"]}}],"mark":{"type":"text","align":"left","baseline":"middle","dx":5,"dy":27},"encoding":{"y":{"datum":2.5,"type":"quantitative"},"text":{"field":"line2","type":"nominal"},"color":{"value":"black"}}}
   ]}
 ]
}
]
}
